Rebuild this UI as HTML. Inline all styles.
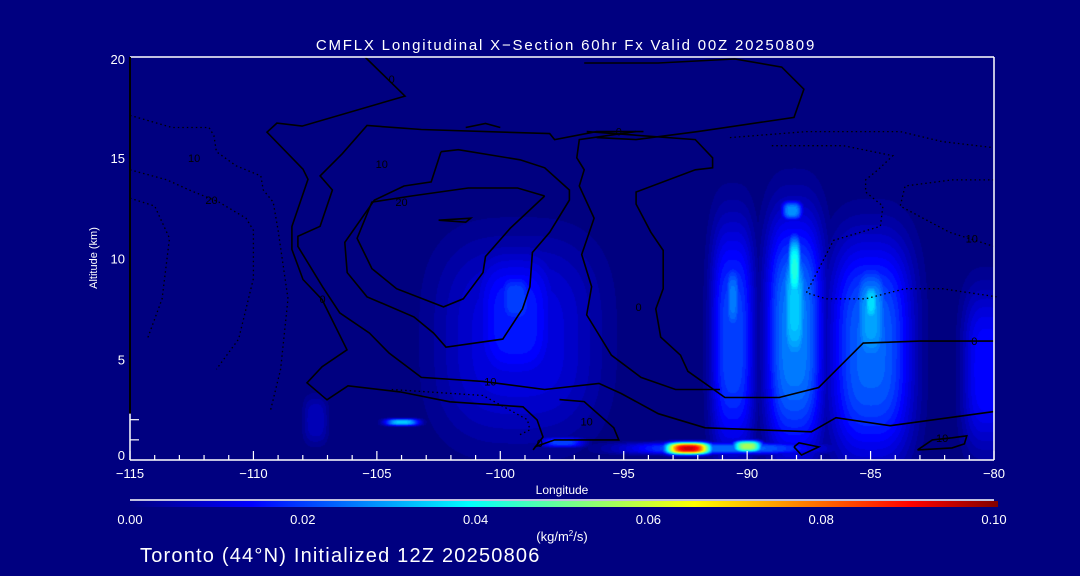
<!DOCTYPE html>
<html><head><meta charset="utf-8"><style>
html,body{margin:0;padding:0;background:#000080;}
body{width:1080px;height:576px;overflow:hidden;position:relative;font-family:"Liberation Sans",sans-serif;color:#fff;}
#fld{position:absolute;left:130px;top:57px;}
#ov{position:absolute;left:0;top:0;}
</style></head><body>
<canvas id="fld" width="864" height="403"></canvas>
<svg id="ov" width="1080" height="576" font-family="Liberation Sans, sans-serif"></svg>
<script>
// ---- data ----
const blobLon = [-99.3,-99.4,-99.4,-90.6,-90.6,-88.1,-88.1,-88.1,-88.2,-85.0,-85.0,-85.0,-80.3,-92.4,-90.0,-91.0,-104.0,-107.5,-97.5];
const blobAlt = [6.0,7.0,8.0,6.0,8.0,6.2,7.5,9.5,12.4,5.5,7.0,7.8,4.5,0.6,0.7,0.6,1.9,2.0,0.9];
const blobVal = [0.012,0.018,0.022,0.022,0.027,0.028,0.035,0.043,0.030,0.025,0.031,0.037,0.016,0.095,0.058,0.026,0.035,0.008,0.022];
const blobSx  = [3.3,1.8,0.8,0.9,0.35,1.2,0.6,0.3,0.45,1.7,0.8,0.35,1.0,0.9,0.6,4.0,0.7,0.5,0.9];
const blobSy  = [5.0,3.5,1.5,5.8,2.0,6.0,3.5,1.8,0.5,5.5,3.0,1.2,4.0,0.3,0.3,0.3,0.18,1.2,0.25];
const xTicks = [-115,-110,-105,-100,-95,-90,-85,-80];
const yTicks = [0,5,10,15,20];
const cbTicks = [0.00,0.02,0.04,0.06,0.08,0.10];
const contours = [
 {dash:false,pts:[[-105.48,20.0],[-103.86,18.06],[-108.03,16.57],[-109.05,16.72],[-109.45,16.27],[-107.99,14.43],[-107.79,13.93],[-108.44,11.59],[-108.44,10.45],[-107.99,8.96],[-107.22,7.96],[-106.21,5.47],[-107.22,4.63],[-107.83,3.83],[-107.02,2.99],[-106.17,3.68],[-104.06,3.38],[-102.04,2.89],[-99.08,2.64],[-98.51,1.99],[-98.27,1.14],[-98.67,0.5]]},
 {dash:false,pts:[[-94.2,16.3],[-96.1,16.3],[-97.8,15.9],[-98.0,16.2],[-103.2,16.4],[-105.4,16.6],[-106.4,15.2],[-107.3,14.1],[-106.8,13.4],[-107.3,11.6],[-108.2,11.1],[-108.2,10.6],[-107.2,8.6],[-106.5,7.3],[-105.3,6.3],[-104.5,5.3],[-103.2,4.1],[-100.7,3.9],[-98.2,3.5],[-96.0,3.8],[-95.1,3.3],[-93.6,2.3],[-91.7,1.6],[-87.4,1.4],[-86.4,2.1],[-84.2,1.7],[-80.0,2.4]]},
 {dash:false,pts:[[-98.2,13.1],[-99.3,13.5],[-101.3,13.5],[-103.6,13.1],[-105.2,12.8],[-105.8,11.0],[-105.2,9.5],[-104.2,8.5],[-102.3,7.6],[-101.5,8.0],[-100.7,9.3],[-100.6,10.1],[-99.6,11.5],[-98.2,13.1]]},
 {dash:false,pts:[[-102.4,15.3],[-101.7,15.4],[-99.2,14.9],[-98.2,14.5],[-97.2,13.4],[-97.2,12.9],[-98.0,11.3],[-98.7,10.3],[-98.8,8.6],[-99.1,7.5],[-99.9,6.0],[-102.2,5.6],[-102.7,6.3],[-103.5,7.1],[-105.4,8.1],[-106.2,9.3],[-106.3,10.8],[-105.1,12.9],[-103.9,13.6],[-102.8,13.8],[-102.4,15.3]]},
 {dash:false,pts:[[-96.5,16.3],[-92.1,15.9],[-91.4,15.0],[-91.4,14.5],[-92.1,14.4],[-94.5,13.3],[-94.5,12.7],[-93.9,11.3],[-93.4,10.4],[-93.4,8.5],[-93.7,7.5],[-93.5,6.1],[-92.7,5.2],[-92.4,4.4],[-90.9,3.1],[-88.7,3.1],[-87.1,3.6],[-85.3,5.8],[-83.0,5.9],[-80.0,5.9]]},
 {dash:false,pts:[[-94.5,16.3],[-96.8,15.9],[-96.9,15.0],[-96.6,14.4],[-96.8,13.6],[-96.2,12.0],[-96.7,10.2],[-96.3,8.6],[-96.5,7.2],[-96.1,6.4],[-95.5,5.2],[-94.3,4.1],[-92.9,3.5],[-91.1,3.5]]},
 {dash:false,pts:[[-96.6,19.7],[-93.6,19.7],[-90.5,19.9],[-88.6,19.5],[-87.7,18.4],[-88.1,17.0],[-92.0,16.3],[-94.5,15.9],[-96.1,16.0]]},
 {dash:false,pts:[[-97.6,3.0],[-96.6,2.9],[-95.4,1.6],[-95.2,1.0],[-97.8,1.0],[-98.6,0.65]]},
 {dash:false,pts:[[-102.5,11.9],[-101.2,12.0],[-101.4,11.8],[-102.5,11.9]]},
 {dash:false,pts:[[-101.4,16.5],[-100.6,16.7],[-100.0,16.5]]},
 {dash:true,pts:[[-115,17.1],[-113.3,16.5],[-111.8,16.5],[-111.6,16.1],[-111.5,15.3],[-110.7,14.6],[-109.7,14.1],[-109.6,13.4],[-109.2,12.8],[-109.0,11.4],[-108.6,8.0],[-108.9,4.5],[-109.3,2.5]]},
 {dash:true,pts:[[-115,14.4],[-113.5,13.9],[-112.6,13.4],[-111.4,12.8],[-110.3,12.0],[-110.0,11.4],[-110.0,9.0],[-110.6,6.0],[-111.5,4.5]]},
 {dash:true,pts:[[-115,13.0],[-114.0,12.6],[-113.4,11.0],[-113.7,8.0],[-114.3,6.0]]},
 {dash:true,pts:[[-90.7,16.0],[-87.6,16.3],[-84.9,16.3],[-83.8,16.3],[-82.1,15.8],[-80,15.5]]},
 {dash:true,pts:[[-89.0,15.6],[-86.1,15.6],[-84.1,15.1],[-84.7,14.4],[-85.2,13.9],[-85.2,13.3],[-84.5,12.6],[-84.6,11.6],[-86.5,10.9],[-87.6,8.3],[-86.8,8.0],[-85.2,8.0],[-83.6,8.5],[-82.1,8.5],[-79.9,8.1]]},
 {dash:true,pts:[[-80,13.9],[-81.7,13.9],[-83.6,13.6],[-83.8,12.6],[-81.8,11.3],[-80,10.6]]},
 {dash:true,pts:[[-104.4,3.5],[-100.7,3.2],[-98.9,2.0],[-98.8,1.5],[-99.3,1.2]]},
 {dash:false,pts:[[-83.1,0.5],[-82.5,1.0],[-81.7,1.1],[-81.1,1.2],[-81.2,0.8],[-81.7,0.6],[-83.1,0.5]]},
 {dash:false,pts:[[-88.1,0.65],[-87.9,0.85],[-87.1,0.65],[-87.8,0.25],[-88.1,0.65]]}
];
const labelTxt = ["10","20","10","20","0","0","0","10","10","0","10","10","0","0"];
const labelLon = [-112.4,-111.7,-104.8,-104.0,-104.4,-95.2,-94.4,-100.4,-96.5,-80.8,-80.9,-82.1,-107.2,-98.4];
const labelAlt = [15.0,12.9,14.7,12.8,18.9,16.3,7.6,3.9,1.9,5.9,11.0,1.1,8.0,0.85];

// ---- axes ----
const X0=130,X1=994,Y0=460,Y1=57;
const xS=l=>X0+(l+115)/35*(X1-X0);
const yS=a=>Y0-a/20*(Y0-Y1);
const cbS=v=>X0+v/0.1*(X1-X0);

// ---- colormap ----
const cstops=[[0,0,0,128],[0.014,0,0,255],[0.039,0,255,255],[0.052,128,255,128],[0.065,255,255,0],[0.09,255,0,0],[0.1,128,0,0]];
function cmap(v){v=Math.max(0,Math.min(0.1,v));for(let i=1;i<cstops.length;i++){const a=cstops[i-1],b=cstops[i];if(v<=b[0]){const t=(v-a[0])/(b[0]-a[0]);return [a[1]+(b[1]-a[1])*t,a[2]+(b[2]-a[2])*t,a[3]+(b[3]-a[3])*t];}}return [128,0,0];}

// ---- field ----
const cv=document.getElementById('fld');const ctx=cv.getContext('2d');
const W=cv.width,H=cv.height;const img=ctx.createImageData(W,H);
for(let py=0;py<H;py++){const alt=(Y0-(Y1+py))/(Y0-Y1)*20;
 for(let px=0;px<W;px++){const lon=-115+px/(X1-X0)*35;let v=0;
  for(let i=0;i<blobLon.length;i++){const dx=Math.abs((lon-blobLon[i])/blobSx[i]),dy=Math.abs((alt-blobAlt[i])/blobSy[i]);if(dx<2.5&&dy<2.5){const f=blobVal[i]*Math.exp(-Math.pow(dx,3)-Math.pow(dy,3));if(f>v)v=f;}}
  v=Math.floor(v/0.002)*0.002;
  const c=cmap(v);const k=(py*W+px)*4;img.data[k]=c[0];img.data[k+1]=c[1];img.data[k+2]=c[2];img.data[k+3]=255;}}
ctx.putImageData(img,0,0);

// ---- svg ----
const NS='http://www.w3.org/2000/svg';const svg=document.getElementById('ov');
function mk(t,a,txt){const e=document.createElementNS(NS,t);for(const k in a)e.setAttribute(k,a[k]);if(txt!==undefined)e.textContent=txt;svg.appendChild(e);return e;}
contours.forEach((c,i)=>{const e=mk('polyline',{points:c.pts.map(p=>xS(p[0]).toFixed(1)+','+yS(p[1]).toFixed(1)).join(' '),fill:'none',stroke:'#000','stroke-width':c.dash?1.3:1.6,'stroke-dasharray':c.dash?'1.5 3':'none'});
 
 });
labelTxt.forEach((t,i)=>{const e=mk('text',{x:xS(labelLon[i]),y:yS(labelAlt[i])+4,'font-size':11,fill:'#000','text-anchor':'middle'},t);
 
 });
// frame
let e;
e=mk('line',{x1:X0,y1:Y1,x2:X1,y2:Y1,stroke:'#fff','stroke-width':1.5});
e=mk('line',{x1:X1,y1:Y1,x2:X1,y2:Y0,stroke:'#fff','stroke-width':1.5});
e=mk('line',{x1:X0,y1:Y0,x2:X1,y2:Y0,stroke:'#fff','stroke-width':1.5});
e=mk('line',{x1:X0,y1:Y1,x2:X0,y2:yS(2.3),stroke:'#000','stroke-width':2});
e=mk('line',{x1:X0,y1:yS(2.3),x2:X0,y2:Y0,stroke:'#fff','stroke-width':1.5});
[1,2].forEach(a=>{e=mk('line',{x1:X0,y1:yS(a),x2:X0+9,y2:yS(a),stroke:'#fff','stroke-width':1.2});});
for(let l=-115;l<=-80;l++){const maj=(l%5===0);e=mk('line',{x1:xS(l),y1:Y0,x2:xS(l),y2:Y0-(maj?9:5),stroke:'#fff','stroke-width':1.2});}
xTicks.forEach(l=>{e=mk('text',{x:xS(l),y:Y0+18,'font-size':13,fill:'#fff','text-anchor':'middle'},String(l).replace('-','\u2212'));});
yTicks.forEach(a=>{e=mk('text',{x:X0-5,y:yS(a)+(a===20?7:(a===0?0:5)),'font-size':13,fill:'#fff','text-anchor':'end'},String(a));});
e=mk('text',{x:566,y:50,'font-size':15,fill:'#fff','text-anchor':'middle','letter-spacing':'1.8'},'CMFLX Longitudinal X\u2212Section 60hr  Fx Valid 00Z 20250809');
e=mk('text',{x:97,y:258,'font-size':11,fill:'#fff','text-anchor':'middle',transform:'rotate(-90 97 258)'},'Altitude (km)');
e=mk('text',{x:562,y:494,'font-size':12,fill:'#fff','text-anchor':'middle'},'Longitude');
// colorbar
const defs=mk('defs',{});const g=document.createElementNS(NS,'linearGradient');g.setAttribute('id','cbg');defs.appendChild(g);
cstops.forEach(s=>{const st=document.createElementNS(NS,'stop');st.setAttribute('offset',(s[0]/0.1*100)+'%');st.setAttribute('stop-color','rgb('+s[1]+','+s[2]+','+s[3]+')');g.appendChild(st);});
e=mk('line',{x1:X0,y1:500,x2:X1,y2:500,stroke:'#fff','stroke-width':1.5});
e=mk('rect',{x:X0,y:501,width:X1-X0+4,height:6,fill:'url(#cbg)'});
cbTicks.forEach(v=>{e=mk('text',{x:cbS(v),y:524,'font-size':13,fill:'#fff','text-anchor':'middle'},v.toFixed(2));});
e=mk('text',{x:562,y:541,'font-size':13,fill:'#fff','text-anchor':'middle'});e.innerHTML='(kg/m<tspan dy="-5" font-size="8">2</tspan><tspan dy="5">/s)</tspan>';
e=mk('text',{x:140,y:562,'font-size':20,fill:'#fff','letter-spacing':'1.2'},'Toronto (44\u00b0N) Initialized 12Z 20250806');
</script>
</body></html>
